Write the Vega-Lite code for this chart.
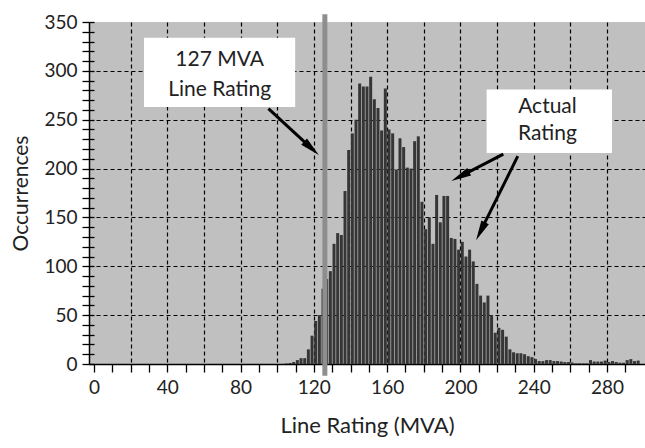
{
  "$schema": "https://vega.github.io/schema/vega-lite/v6.json",
  "width": 556,
  "height": 342,
  "autosize": "none",
  "padding": {"left": 89, "top": 22, "right": 0, "bottom": 84},
  "background": "white",
  "config": {"view": {"fill": "#c0c0c0", "stroke": null}, "font": "Lato"},
  "resolve": {"axis": {"y": "independent"}},
  "datasets": {
    "bars": [
      {"mva": 105, "n": 0.5}, {"mva": 107, "n": 1}, {"mva": 109, "n": 2}, {"mva": 111, "n": 4},
      {"mva": 113, "n": 6}, {"mva": 115, "n": 6}, {"mva": 117, "n": 15}, {"mva": 119, "n": 29},
      {"mva": 121, "n": 44}, {"mva": 123, "n": 50}, {"mva": 125, "n": 77}, {"mva": 127, "n": 87},
      {"mva": 129, "n": 95}, {"mva": 131, "n": 123}, {"mva": 133, "n": 134}, {"mva": 135, "n": 132},
      {"mva": 137, "n": 177}, {"mva": 139, "n": 219}, {"mva": 141, "n": 236}, {"mva": 143, "n": 250},
      {"mva": 145, "n": 287}, {"mva": 147, "n": 284}, {"mva": 149, "n": 284}, {"mva": 151, "n": 294},
      {"mva": 153, "n": 271}, {"mva": 155, "n": 262}, {"mva": 157, "n": 239}, {"mva": 159, "n": 282},
      {"mva": 161, "n": 240}, {"mva": 163, "n": 236}, {"mva": 165, "n": 199}, {"mva": 167, "n": 231},
      {"mva": 169, "n": 222}, {"mva": 171, "n": 201}, {"mva": 173, "n": 200}, {"mva": 175, "n": 228},
      {"mva": 177, "n": 233}, {"mva": 179, "n": 166}, {"mva": 181, "n": 138}, {"mva": 183, "n": 150},
      {"mva": 185, "n": 123}, {"mva": 187, "n": 173}, {"mva": 189, "n": 145}, {"mva": 191, "n": 172},
      {"mva": 193, "n": 172}, {"mva": 195, "n": 129}, {"mva": 197, "n": 128}, {"mva": 199, "n": 117},
      {"mva": 201, "n": 125}, {"mva": 203, "n": 110}, {"mva": 205, "n": 117}, {"mva": 207, "n": 105},
      {"mva": 209, "n": 82}, {"mva": 211, "n": 70}, {"mva": 213, "n": 63}, {"mva": 215, "n": 70},
      {"mva": 217, "n": 50}, {"mva": 219, "n": 32}, {"mva": 221, "n": 37}, {"mva": 223, "n": 35},
      {"mva": 225, "n": 28}, {"mva": 227, "n": 15}, {"mva": 229, "n": 12}, {"mva": 231, "n": 11},
      {"mva": 233, "n": 11}, {"mva": 235, "n": 10}, {"mva": 237, "n": 8}, {"mva": 239, "n": 7},
      {"mva": 241, "n": 5}, {"mva": 243, "n": 3}, {"mva": 245, "n": 3}, {"mva": 247, "n": 4},
      {"mva": 249, "n": 4}, {"mva": 251, "n": 3}, {"mva": 253, "n": 3}, {"mva": 255, "n": 2.5},
      {"mva": 257, "n": 2}, {"mva": 259, "n": 2}, {"mva": 261, "n": 1.5}, {"mva": 263, "n": 0.7},
      {"mva": 265, "n": 0.7}, {"mva": 267, "n": 0.7}, {"mva": 269, "n": 0.7}, {"mva": 271, "n": 4},
      {"mva": 273, "n": 2.5}, {"mva": 275, "n": 2.5}, {"mva": 277, "n": 2.5}, {"mva": 279, "n": 3.5},
      {"mva": 281, "n": 2}, {"mva": 283, "n": 3}, {"mva": 285, "n": 2}, {"mva": 287, "n": 1.3},
      {"mva": 289, "n": 1.3}, {"mva": 291, "n": 4}, {"mva": 293, "n": 5}, {"mva": 295, "n": 3},
      {"mva": 297, "n": 3.5}
    ],
    "rating": [{"x": 126, "y0": -12, "y1": 358}],
    "boxes": [
      {"x0": 27.3, "x1": 109.8, "y0": 263, "y1": 334},
      {"x0": 214.3, "x1": 282.7, "y0": 216, "y1": 281}
    ],
    "labels": [
      {"x": 68.6, "y": 311, "t": "127 MVA"},
      {"x": 68.6, "y": 280, "t": "Line Rating"},
      {"x": 247.5, "y": 263, "t": "Actual"},
      {"x": 247.5, "y": 235, "t": "Rating"}
    ],
    "arrows": [
      {"xs": 95.2, "ys": 261.4, "xe": 118.7, "ye": 220.7, "ang": 132.6},
      {"xs": 223.4, "ys": 214.7, "xe": 199.9, "ye": 192.0, "ang": 243.1},
      {"xs": 231.3, "ys": 212.7, "xe": 211.0, "ye": 135.9, "ang": 206.8}
    ]
  },
  "layer": [
    {
      "data": {"name": "bars"},
      "mark": {"type": "bar", "size": 3, "color": "#363636"},
      "encoding": {
        "x": {
          "field": "mva", "type": "quantitative",
          "scale": {"domain": [0, 298], "nice": false, "zero": false},
          "axis": {
            "title": "Line Rating (MVA)",
            "values": [0,10,20,30,40,50,60,70,80,90,100,110,120,130,140,150,160,170,180,190,200,210,220,230,240,250,260,270,280,290],
            "tickCount": 200,
            "labelExpr": "datum.value % 40 === 0 ? datum.label : ''",
            "grid": true,
            "gridColor": "black",
            "gridDash": [4, 3],
            "gridWidth": 1.2,
            "gridOpacity": {"condition": {"test": "datum.value % 20 === 0 && datum.value > 0", "value": 1}, "value": 0},
            "domainColor": "black",
            "domainWidth": 1.5,
            "tickColor": "black",
            "tickWidth": 1.3,
            "tickSize": 8,
            "labelFont": "Lato",
            "labelFontSize": 19,
            "labelColor": "#222",
            "labelPadding": 6,
            "labelFlush": false,
            "labelOverlap": false,
            "titleFont": "Lato",
            "titleFontSize": 22,
            "titleFontWeight": "normal",
            "titleColor": "#222",
            "titlePadding": 18
          }
        },
        "y": {
          "field": "n", "type": "quantitative",
          "scale": {"domain": [0, 350], "nice": false},
          "axis": {
            "title": "Occurrences",
            "orient": "left",
            "values": [0,10,20,30,40,50,60,70,80,90,100,110,120,130,140,150,160,170,180,190,200,210,220,230,240,250,260,270,280,290,300,310,320,330,340,350],
            "tickCount": 200,
            "labelExpr": "datum.value % 50 === 0 ? datum.label : ''",
            "grid": true,
            "gridColor": "black",
            "gridDash": [4, 3],
            "gridWidth": 1.2,
            "gridOpacity": {"condition": {"test": "datum.value % 50 === 0 && datum.value > 0 && datum.value < 350", "value": 1}, "value": 0},
            "domainColor": "black",
            "domainWidth": 1.5,
            "tickColor": "black",
            "tickWidth": 1.3,
            "tickSize": 7,
            "labelFont": "Lato",
            "labelFontSize": 19,
            "labelColor": "#222",
            "labelPadding": 5,
            "labelFlush": false,
            "labelOverlap": false,
            "titleFont": "Lato",
            "titleFontSize": 21,
            "titleFontWeight": "normal",
            "titleColor": "#222",
            "titlePadding": 12
          }
        }
      }
    },
    {
      "data": {"name": "rating"},
      "mark": {"type": "rule", "color": "#8e8e8e", "strokeWidth": 5, "clip": false},
      "encoding": {
        "x": {"field": "x", "type": "quantitative"},
        "y": {
          "field": "y0", "type": "quantitative",
          "axis": {
            "orient": "left",
            "title": null,
            "labels": false,
            "domain": false,
            "grid": false,
            "values": [0,10,20,30,40,50,60,70,80,90,100,110,120,130,140,150,160,170,180,190,200,210,220,230,240,250,260,270,280,290,300,310,320,330,340,350],
            "tickCount": 200,
            "tickColor": "black",
            "tickWidth": 1.3,
            "tickSize": -5
          }
        },
        "y2": {"field": "y1"}
      }
    },
    {
      "data": {"name": "boxes"},
      "mark": {"type": "rect", "color": "white"},
      "encoding": {
        "x": {"field": "x0", "type": "quantitative"},
        "x2": {"field": "x1"},
        "y": {"field": "y0", "type": "quantitative", "axis": null},
        "y2": {"field": "y1"}
      }
    },
    {
      "data": {"name": "labels"},
      "mark": {"type": "text", "font": "Lato", "fontSize": 21, "color": "#222", "align": "center", "baseline": "middle"},
      "encoding": {
        "x": {"field": "x", "type": "quantitative"},
        "y": {"field": "y", "type": "quantitative", "axis": null},
        "text": {"field": "t"}
      }
    },
    {
      "data": {"name": "arrows"},
      "mark": {"type": "rule", "color": "black", "strokeWidth": 3},
      "encoding": {
        "x": {"field": "xs", "type": "quantitative"},
        "y": {"field": "ys", "type": "quantitative", "axis": null},
        "x2": {"field": "xe"},
        "y2": {"field": "ye"}
      }
    },
    {
      "data": {"name": "arrows"},
      "mark": {"type": "point", "shape": "M0,-1L0.42,1L-0.42,1Z", "filled": true, "color": "black", "opacity": 1, "size": 400},
      "encoding": {
        "x": {"field": "xe", "type": "quantitative"},
        "y": {"field": "ye", "type": "quantitative", "axis": null},
        "angle": {"field": "ang", "type": "quantitative", "scale": null}
      }
    }
  ]
}
